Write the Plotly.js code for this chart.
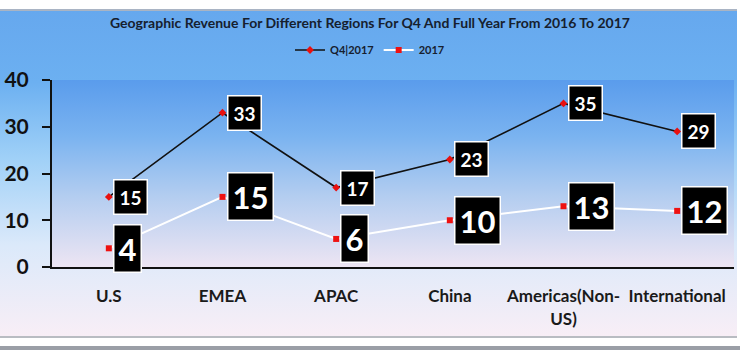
<!DOCTYPE html>
<html>
<head>
<meta charset="utf-8">
<script src="https://cdn.plot.ly/plotly-3.0.1.min.js"></script>
<style>
  html, body { margin: 0; padding: 0; background: #ffffff; width: 740px; height: 350px; overflow: hidden; }
  #outer { position: absolute; left: 0; top: 9px; width: 737px; height: 329px;
    border-top: 2px solid #a9b4c4; border-bottom: 2px solid #b9bcc2; box-sizing: border-box;
    background: linear-gradient(to bottom, #66a8ee 0%, #6cb0f1 22%, #9fd0f7 45%, #dbe9fa 72%, #f8eef6 100%); }
  #plotbg { position: absolute; left: 52px; top: 80px; width: 682px; height: 187px;
    background: linear-gradient(to bottom, #5a9cec 0%, #7ab3f0 30%, #b3cdf0 62%, #ede5f3 100%); }
  #bottombar { position: absolute; left: 0; top: 346px; width: 740px; height: 4px; background: #9a9ea6; }
  #chart { position: absolute; left: 0; top: 0; width: 740px; height: 350px; }
</style>
</head>
<body>
<div id="outer"></div>
<div id="plotbg"></div>
<div id="bottombar"></div>
<div id="chart"></div>
<script>
const categories = ["U.S", "EMEA", "APAC", "China", "Americas(Non-<br>US)", "International"];
const q4_2017 = [15, 33, 17, 23, 35, 29];
const fy_2017 = [4, 15, 6, 10, 13, 12];
const seriesNames = ["Q4|2017", "2017"];
const yTicks = [0, 10, 20, 30, 40];

const FONT = "Lato, 'Open Sans', sans-serif";
const xIdx = categories.map((_, i) => i);

const traces = [
  { x: xIdx, y: q4_2017, name: seriesNames[0], type: "scatter", mode: "lines+markers",
    line: { color: "#111111", width: 1.6 },
    marker: { symbol: "diamond", color: "#e8100f", size: 6 } },
  { x: xIdx, y: fy_2017, name: seriesNames[1], type: "scatter", mode: "lines+markers",
    line: { color: "#ffffff", width: 2 },
    marker: { symbol: "square", color: "#ee1111", size: 6 } }
];

const annotations = [];
q4_2017.forEach((v, i) => annotations.push({
  x: i, y: v, xref: "x", yref: "y", text: String(v), showarrow: false,
  xanchor: "left", yanchor: "middle", xshift: 4,
  font: { family: FONT, size: 19, color: "#ffffff", weight: "bold" },
  bgcolor: "#000000", bordercolor: "#ffffff", borderwidth: 1.5, borderpad: 5
}));
fy_2017.forEach((v, i) => annotations.push({
  x: i, y: v, xref: "x", yref: "y", text: String(v), showarrow: false,
  xanchor: "left", yanchor: "middle", xshift: 4,
  font: { family: FONT, size: 31, color: "#ffffff", weight: "bold" },
  bgcolor: "#000000", bordercolor: "#ffffff", borderwidth: 1.5, borderpad: 4
}));

const layout = {
  width: 740, height: 350,
  margin: { l: 52, r: 6, t: 80, b: 83 },
  paper_bgcolor: "rgba(0,0,0,0)", plot_bgcolor: "rgba(0,0,0,0)",
  title: { text: "Geographic Revenue For Different Regions For Q4 And Full Year From 2016 To 2017",
    x: 0.5, xref: "container", xanchor: "center", y: 1 - 23 / 350, yref: "container", yanchor: "middle",
    font: { family: FONT, size: 14, color: "#16202e", weight: "bold" } },
  showlegend: true,
  legend: { orientation: "h", xref: "container", x: 0.5, xanchor: "center",
    yref: "container", y: 1 - 50 / 350, yanchor: "middle",
    font: { family: FONT, size: 11, color: "#16202e", weight: "bold" },
    bgcolor: "rgba(0,0,0,0)", itemwidth: 30, tracegroupgap: 0 },
  xaxis: { range: [-0.5, 5.5], tickmode: "array", tickvals: xIdx, ticktext: categories,
    showgrid: false, zeroline: false, showline: true, linecolor: "#111111", linewidth: 2,
    ticks: "outside", ticklen: 13, tickcolor: "rgba(0,0,0,0)",
    tickfont: { family: FONT, size: 17, color: "#1a1a1a", weight: "bold" }, fixedrange: true },
  yaxis: { range: [0, 40], tickmode: "array", tickvals: yTicks, ticktext: yTicks.map(String),
    showgrid: false, zeroline: false, showline: true, linecolor: "#111111", linewidth: 2,
    ticks: "outside", ticklen: 8, tickwidth: 2, tickcolor: "#111111", ticklabelstandoff: 9,
    tickfont: { family: FONT, size: 21, color: "#111111", weight: "bold" }, fixedrange: true },
  annotations: annotations
};

Plotly.newPlot("chart", traces, layout, { displayModeBar: false, staticPlot: true });
</script>
</body>
</html>
